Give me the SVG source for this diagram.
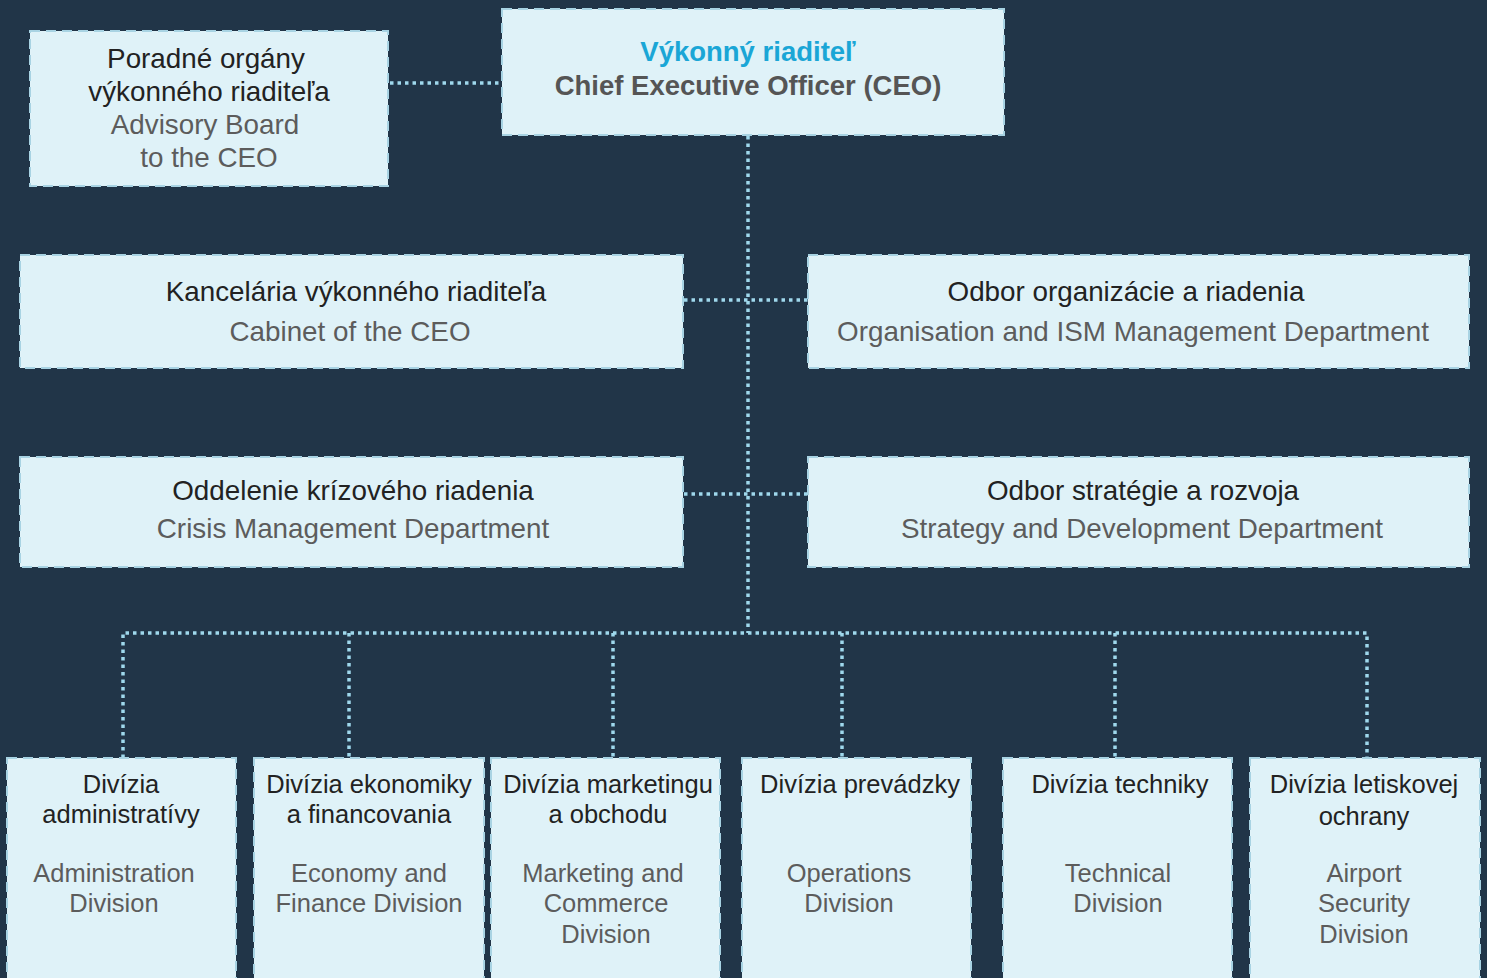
<svg xmlns="http://www.w3.org/2000/svg" width="1487" height="978" viewBox="0 0 1487 978">
<style>
.bx{fill:#dff2f8;stroke:#a8d3e3;stroke-width:2;stroke-dasharray:10 6}
.cn{fill:none;stroke:#9fd8ec;stroke-width:3.5;stroke-dasharray:3.5 4}
text{font-family:"Liberation Sans",Arial,sans-serif;font-size:25.5px;text-anchor:middle}
.m{font-size:27.8px}
.d{fill:#222222}
.g{fill:#5c5c5c}
.t{fill:#1aa6d6;font-weight:bold;font-size:27.5px}
.s{fill:#555555;font-weight:bold;font-size:27.5px}
</style>
<rect x="0" y="0" width="1487" height="978" fill="#213548"/>
<g id="connectors">
<path class="cn" d="M390 83H502"/>
<path class="cn" d="M748 136V633"/>
<path class="cn" d="M684 300H808"/>
<path class="cn" d="M684 494H808"/>
<path class="cn" d="M123 758V633H1367V758"/>
<path class="cn" d="M349 633V758"/>
<path class="cn" d="M613 633V758"/>
<path class="cn" d="M842 633V758"/>
<path class="cn" d="M1115 633V758"/>
</g>
<g id="ceo">
<rect class="bx" x="502" y="9" width="502" height="126"/>
<text class="t" x="748" y="61">Výkonný riaditeľ</text>
<text class="s" x="748" y="95">Chief Executive Officer (CEO)</text>
</g>
<g id="advisory">
<rect class="bx" x="30" y="31" width="358" height="155"/>
<text class="d m" x="206" y="68">Poradné orgány</text>
<text class="d m" x="209" y="101">výkonného riaditeľa</text>
<text class="g m" x="205" y="134">Advisory Board</text>
<text class="g m" x="209" y="167">to the CEO</text>
</g>
<g id="cabinet">
<rect class="bx" x="20" y="255" width="663" height="113"/>
<text class="d m" x="356" y="301">Kancelária výkonného riaditeľa</text>
<text class="g m" x="350" y="341">Cabinet of the CEO</text>
</g>
<g id="organisation">
<rect class="bx" x="808" y="255" width="661" height="113"/>
<text class="d m" x="1126" y="301">Odbor organizácie a riadenia</text>
<text class="g m" x="1133" y="341">Organisation and ISM Management Department</text>
</g>
<g id="crisis">
<rect class="bx" x="20" y="457" width="663" height="110"/>
<text class="d m" x="353" y="500">Oddelenie krízového riadenia</text>
<text class="g m" x="353" y="538">Crisis Management Department</text>
</g>
<g id="strategy">
<rect class="bx" x="808" y="457" width="661" height="110"/>
<text class="d m" x="1143" y="500">Odbor stratégie a rozvoja</text>
<text class="g m" x="1142" y="538">Strategy and Development Department</text>
</g>
<g id="div-admin">
<rect class="bx" x="7" y="758" width="229" height="230"/>
<text class="d" x="121" y="793">Divízia</text>
<text class="d" x="121" y="823">administratívy</text>
<text class="g" x="114" y="882">Administration</text>
<text class="g" x="114" y="912">Division</text>
</g>
<g id="div-econ">
<rect class="bx" x="254" y="758" width="230" height="230"/>
<text class="d" x="369" y="793">Divízia ekonomiky</text>
<text class="d" x="369" y="823">a financovania</text>
<text class="g" x="369" y="882">Economy and</text>
<text class="g" x="369" y="912">Finance Division</text>
</g>
<g id="div-marketing">
<rect class="bx" x="491" y="758" width="229" height="230"/>
<text class="d" x="608" y="793">Divízia marketingu</text>
<text class="d" x="608" y="823">a obchodu</text>
<text class="g" x="603" y="882">Marketing and</text>
<text class="g" x="606" y="912">Commerce</text>
<text class="g" x="606" y="943">Division</text>
</g>
<g id="div-operations">
<rect class="bx" x="742" y="758" width="229" height="230"/>
<text class="d" x="860" y="793">Divízia prevádzky</text>
<text class="g" x="849" y="882">Operations</text>
<text class="g" x="849" y="912">Division</text>
</g>
<g id="div-technical">
<rect class="bx" x="1003" y="758" width="229" height="230"/>
<text class="d" x="1120" y="793">Divízia techniky</text>
<text class="g" x="1118" y="882">Technical</text>
<text class="g" x="1118" y="912">Division</text>
</g>
<g id="div-security">
<rect class="bx" x="1250" y="758" width="230" height="230"/>
<text class="d" x="1364" y="793">Divízia letiskovej</text>
<text class="d" x="1364" y="825">ochrany</text>
<text class="g" x="1364" y="882">Airport</text>
<text class="g" x="1364" y="912">Security</text>
<text class="g" x="1364" y="943">Division</text>
</g>
</svg>
